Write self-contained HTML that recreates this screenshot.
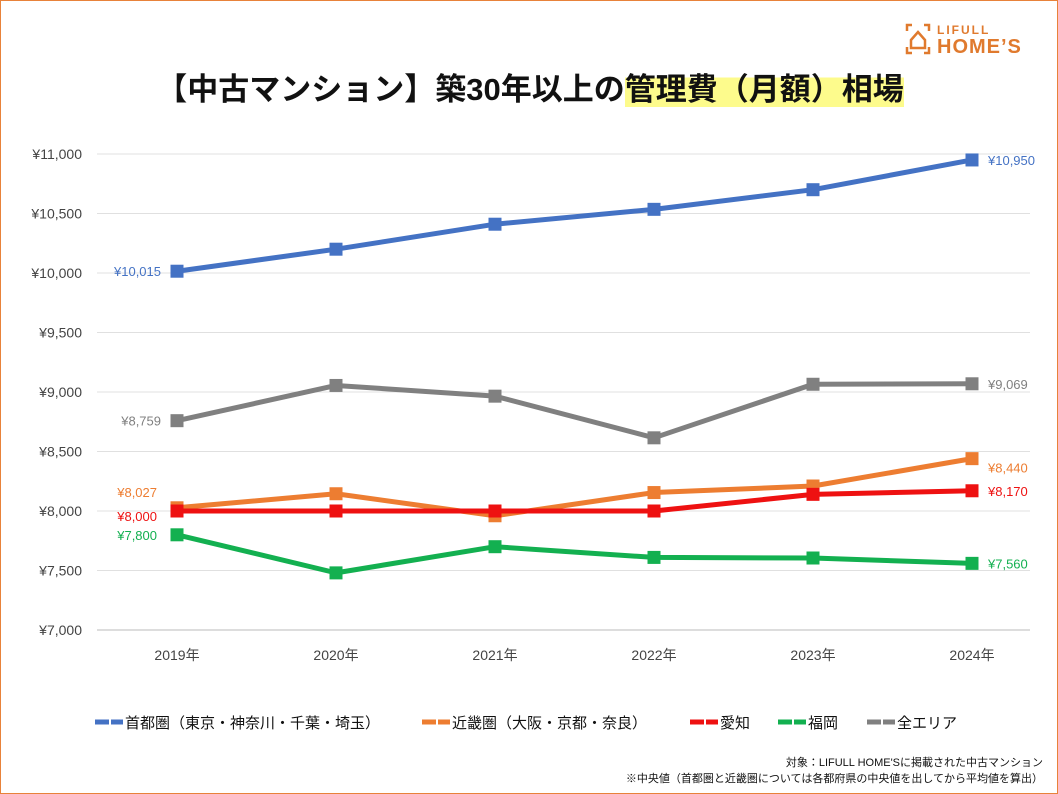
<!DOCTYPE html>
<html><head><meta charset="utf-8">
<style>
body{margin:0;background:#fff;}
#wrap{position:relative;width:1056px;height:792px;border:1px solid #e8823a;background:#fff;font-family:"Liberation Sans","Noto Sans CJK JP",sans-serif;overflow:hidden;}
#title{position:absolute;left:0;top:63px;width:1058px;text-align:center;font-size:31px;font-weight:bold;color:#111;}
.hl{background:linear-gradient(transparent 15%,#fdfb8c 15%);}
#logo{position:absolute;left:904px;top:20px;color:#e07a2e;font-weight:bold;}
#note{position:absolute;right:14px;top:754px;font-size:11px;text-align:right;line-height:16px;color:#111;}
</style></head><body>
<div id="wrap">
<div id="logo">
<svg width="26" height="32" style="position:absolute;left:0;top:2px"><path d="M2 8V2h5M19 2h5v6M2 24v6h5M19 30h5v-6" stroke="#e07a2e" stroke-width="2.5" fill="none"/><path d="M6 17L13 9L20 17V25H6Z" stroke="#e07a2e" stroke-width="2.5" fill="none"/></svg>
<div style="position:absolute;left:32px;top:2px;font-size:12px;letter-spacing:2px;">LIFULL</div>
<div style="position:absolute;left:32px;top:15px;font-size:20px;white-space:nowrap;letter-spacing:1px;">HOME’S</div>
</div>
<div id="title">【中古マンション】築30年以上の<span class="hl">管理費（月額）相場</span></div>
<svg id="chart" width="1058" height="794" style="position:absolute;left:-1px;top:-1px"></svg>
<div id="note">対象：LIFULL HOME'Sに掲載された中古マンション<br>※中央値（首都圏と近畿圏については各都府県の中央値を出してから平均値を算出）</div>
</div>
<script>
const years=["2019年","2020年","2021年","2022年","2023年","2024年"];
const yTicks=[7000,7500,8000,8500,9000,9500,10000,10500,11000];
const shutoken=[10015,10200,10410,10535,10700,10950];
const kinki=[8027,8145,7960,8155,8210,8440];
const aichi=[8000,8000,8000,8000,8140,8170];
const fukuoka=[7800,7480,7700,7610,7605,7560];
const zenarea=[8759,9055,8965,8615,9065,9069];
const seriesNames=["首都圏（東京・神奈川・千葉・埼玉）","近畿圏（大阪・京都・奈良）","愛知","福岡","全エリア"];
const colors=["#4472c4","#ed7d31","#ee1111","#13b050","#808080"];
const NS="http://www.w3.org/2000/svg";
const svg=document.getElementById('chart');
const X=i=>177+i*159;
const Y=v=>630-(v-7000)*476/4000;
function mk(t,a){const e=document.createElementNS(NS,t);for(const k in a)e.setAttribute(k,a[k]);svg.appendChild(e);return e;}
yTicks.forEach(v=>{
 const l=mk('line',{x1:97,x2:1030,y1:Y(v),y2:Y(v),stroke:v===7000?'#bbb':'#e0e0e0','stroke-width':1});
 
 
 const t=mk('text',{x:82,y:Y(v)+5,'text-anchor':'end','font-size':14,fill:'#444'});
 t.textContent='¥'+v.toLocaleString('en-US');
 
 
});
years.forEach((y,i)=>{
 const t=mk('text',{x:X(i),y:660,'text-anchor':'middle','font-size':14,fill:'#444','font-family':'Liberation Sans, Noto Sans CJK JP, sans-serif'});
 t.textContent=y;
 
 
});
const all=[shutoken,kinki,aichi,fukuoka,zenarea];
const order=[4,0,1,2,3];
order.forEach(s=>{
 const d=all[s];
 const p=mk('polyline',{points:d.map((v,i)=>X(i)+','+Y(v)).join(' '),fill:'none',stroke:colors[s],'stroke-width':5,'stroke-linejoin':'round'});
 
 
 d.forEach((v,i)=>{
  const r=mk('rect',{x:X(i)-6.5,y:Y(v)-6.5,width:13,height:13,fill:colors[s]});
  
  
 });
});
function lab(s,i,dx,dy,anchor){
 const v=all[s][i];
 const t=mk('text',{x:X(i)+dx,y:Y(v)+dy,'text-anchor':anchor,'font-size':13,fill:colors[s]});
 t.textContent='¥'+v.toLocaleString('en-US');
 
 
}
lab(0,0,-16,5,'end');lab(0,5,16,5,'start');
lab(4,0,-16,5,'end');lab(4,5,16,5,'start');
lab(1,0,-20,-11,'end');lab(1,5,16,14,'start');
lab(2,0,-20,10,'end');lab(2,5,16,5,'start');
lab(3,0,-20,5,'end');lab(3,5,16,5,'start');
const legX=[95,422,690,778,867];
seriesNames.forEach((n,s)=>{
 const l=mk('line',{x1:legX[s],x2:legX[s]+28,y1:722,y2:722,stroke:colors[s],'stroke-width':5,'stroke-dasharray':'14 2 12'});
 
 
 const t=mk('text',{x:legX[s]+30,y:728,'font-size':15,fill:'#111','font-family':'Liberation Sans, Noto Sans CJK JP, sans-serif'});
 t.textContent=n;
 
 
});
</script>
</body></html>
